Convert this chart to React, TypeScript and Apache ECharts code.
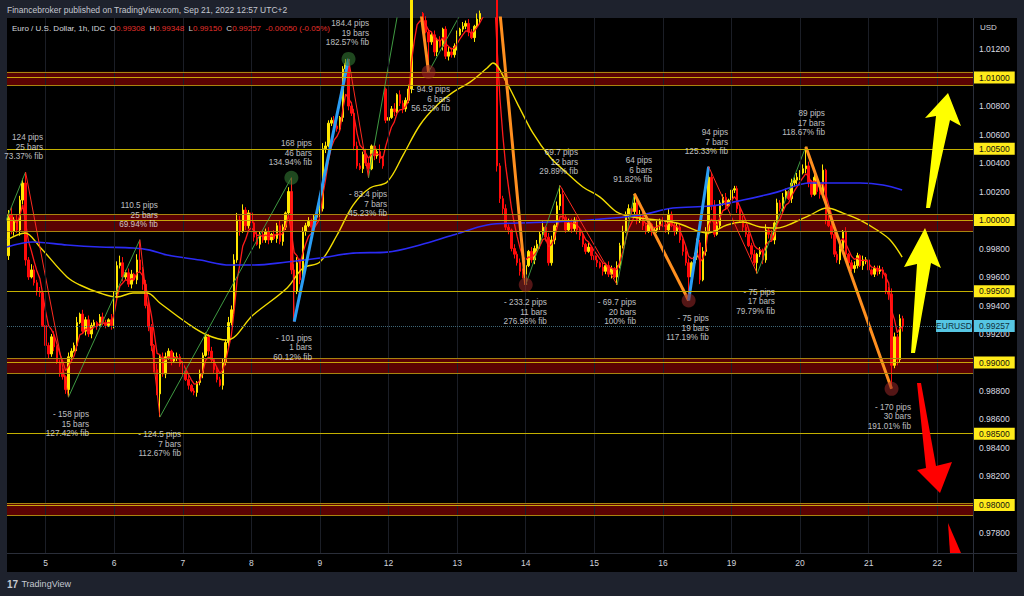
import React, { useEffect, useRef } from "react";
import * as echarts from "echarts";

const FONT = '"Liberation Sans", Arial, sans-serif';
const BASE = 0.98;
const PIP = 0.0001;
const SLOT_COUNT = 338;
const FIRST_DAY_SLOT = 13;
const SLOTS_PER_DAY = 24;
const DAY_LABELS = ["5", "6", "7", "8", "9", "12", "13", "14", "15", "16", "19", "20", "21", "22"];
const Y_MIN = 0.97663;
const Y_MAX = 1.01418;
const LAST_PRICE = 0.99257;
const EMA_PERIOD = 5;

// hourly closes, pips above 0.98000
const CLOSES = [
  204, 192, 200, 193, 214, 226, 172, 160, 165, 156,
  150, 149, 126, 112, 106, 118, 111, 100, 93, 90,
  81, 104, 108, 112, 128, 134, 122, 130, 120, 126,
  128, 126, 132, 128, 126, 130, 126, 148, 168, 170,
  160, 163, 155, 162, 158, 172, 165, 155, 140, 125,
  112, 95, 78, 104, 92, 104, 108, 101, 104, 104,
  99, 94, 88, 84, 80, 79, 86, 92, 105, 118,
  108, 102, 95, 88, 84, 100, 114, 128, 137, 172,
  200, 192, 207, 196, 205, 198, 188, 183, 190, 186,
  192, 186, 190, 187, 196, 185, 195, 205, 220, 165,
  150, 170, 158, 192, 196, 199, 195, 202, 204, 208,
  250, 252, 268, 270, 266, 264, 272, 306, 310, 280,
  275, 252, 238, 236, 246, 240, 236, 252, 245, 248,
  243, 238, 270, 272, 278, 276, 288, 282, 278, 284,
  292, 365, 355, 360, 345, 340, 332, 325, 330, 318,
  326, 322, 334, 315, 318, 316, 322, 330, 334, 336,
  338, 332, 328, 336, 341, 345, 350, 348, 355, 365,
  375, 238, 215, 208, 195, 193, 180, 176, 170, 164,
  162, 168, 178, 172, 180, 183, 190, 195, 188, 170,
  186, 196, 210, 218, 202, 193, 198, 194, 200, 193,
  189, 183, 178, 181, 175, 172, 170, 167, 164, 168,
  162, 166, 160, 168, 182, 192, 204, 208, 206, 212,
  200, 204, 196, 192, 197, 192, 193, 196, 199, 197,
  193, 204, 196, 192, 195, 186, 178, 170, 160, 170,
  174, 184, 158, 178, 192, 230, 210, 190, 196, 212,
  216, 210, 214, 221, 222, 208, 200, 195, 190, 182,
  176, 170, 176, 178, 172, 193, 190, 186, 198, 212,
  208, 216, 220, 215, 226, 228, 230, 233, 236, 238,
  226, 218, 230, 220, 218, 235, 200, 196, 190, 176,
  172, 180, 192, 176, 170, 166, 168, 175, 168, 172,
  172, 165, 162, 166, 164, 165, 162, 150, 148, 98,
  118, 102, 130.8, 125.7,
];

// opens that differ from the previous close (first bar, weekend gap, last bar)
const OPEN_OVERRIDES: [number, number][] = [[0, 175], [132, 292], [313, 130.8]];

// wick lengths in pips (upper / lower)
const WICK_UP = [
  "3524331243", "2313224123", "1322413232", "2123214235", "4233142233", "2142332133",
  "2213121323", "2312232434", "5342231423", "2313242132", "4433232213", "4322341232",
  "3332243122", "5213241322", "3532413223", "2312432313", "2321423123", "4422321323",
  "2313232413", "3132423322", "2213123132", "3213242313", "2322312423", "3422321431",
  "3323343432", "2313221324", "2313242313", "2321323231", "3242341322", "2313123213",
  "2312232134", "3232",
].join("");
const WICK_DN = [
  "3232434212", "3312323132", "3231412323", "2312213232", "3223132423", "4213232313",
  "2313123231", "3232132323", "2313223132", "2321323213", "3232313232", "2312321323",
  "2321323132", "3223131232", "2313221323", "3132322312", "2313232321", "3434232323",
  "3212323132", "2313221323", "3221323132", "2313221323", "3232131232", "2313223231",
  "3231323212", "2313232321", "3212323132", "2321323213", "3212323132", "2313223213",
  "3212323243", "2424",
].join("");

// zigzag pivots [bar index, pips]
const PIVOTS: [number, number][] = [
  [-19, 109.7], [6, 233.7], [21, 75.7], [46, 186.2], [53, 61.7], [99, 229.7], [100, 128.7],
  [119, 313.1], [126, 229.7], [141, 398.8], [147, 303.9], [170, 387.7], [181, 154.5],
  [193, 224.2], [213, 154.5], [219, 218.5], [238, 143.5], [245, 237.5], [262, 162.5],
  [279, 251.5], [309, 81.5],
];
const LEG_KINDS = [
  "up", "down", "up", "down", "up", "down", "blue", "down", "up", "orange",
  "up", "orange", "up", "down", "up", "orange", "blue", "down", "up", "orange",
];
const CIRCLES: [number, string][] = [
  [99, "green"], [119, "green"], [147, "red"], [181, "red"], [238, "red"], [309, "red"],
];

// zigzag labels: [bar position of right edge, pips at middle line, text]
const PIVOT_LABELS: [number, number, string][] = [
  [12.1, 251.2, "124 pips\n25 bars\n73.37% fib"],
  [28.2, 56.8, "- 158 pips\n15 bars\n127.42% fib"],
  [52.3, 203.5, "110.5 pips\n25 bars\n69.94% fib"],
  [60.4, 42.8, "- 124.5 pips\n7 bars\n112.67% fib"],
  [106.2, 247, "168 pips\n46 bars\n134.94% fib"],
  [106.2, 110.2, "- 101 pips\n1 bars\n60.12% fib"],
  [126.2, 331.2, "184.4 pips\n19 bars\n182.57% fib"],
  [132.5, 211.2, "- 83.4 pips\n7 bars\n45.23% fib"],
  [154.5, 284.9, "- 94.9 pips\n6 bars\n56.52% fib"],
  [188.4, 135.4, "- 233.2 pips\n11 bars\n276.96% fib"],
  [199.3, 240.7, "69.7 pips\n12 bars\n29.89% fib"],
  [219.6, 135.4, "- 69.7 pips\n20 bars\n100% fib"],
  [225.2, 235, "64 pips\n6 bars\n91.82% fib"],
  [245.1, 124.2, "- 75 pips\n19 bars\n117.19% fib"],
  [251.8, 254.7, "94 pips\n7 bars\n125.33% fib"],
  [268.2, 142.5, "- 75 pips\n17 bars\n79.79% fib"],
  [285.7, 268.1, "89 pips\n17 bars\n118.67% fib"],
  [315.8, 61.8, "- 170 pips\n30 bars\n191.01% fib"],
];

// moving averages [bar position, pips]
const YELLOW_MA: [number, number][] = [
  [-0.5, 186], [5.8, 190.9], [11, 181.1], [20.5, 160], [25, 154.4], [32, 148.8], [38, 146],
  [43.6, 148.8], [48.5, 148.8], [53, 141.8], [62.5, 127.7], [69.5, 119.3], [76.5, 115.8],
  [85.6, 133.3], [97.5, 152.3], [103.1, 166.3], [109, 170.5], [115, 189.5], [120.6, 210.5],
  [126.5, 222.5], [132.5, 226.7], [138.1, 245.6], [144, 266.7], [150, 280.7], [155.6, 289.8],
  [161.5, 296.8], [167.5, 306.7], [169.5, 310.2], [174.4, 296.1], [178, 282.1], [183.5, 261.1],
  [189.5, 244.2], [195.4, 233], [201, 223.2], [207, 216.1], [212.9, 205.6], [218.5, 202.1],
  [226.9, 200], [233.9, 197.9], [244.5, 190.9], [251.4, 196.5], [257, 198.6], [263, 195.1],
  [268.9, 194.4], [274.5, 197.9], [280.5, 203.5], [286.4, 208.4], [292, 204.9], [298, 200],
  [303.9, 193], [308.5, 186], [312.7, 174],
];
const BLUE_MA: [number, number][] = [
  [-0.5, 181.1], [8.6, 184.6], [20.5, 182.5], [32, 181.1], [43.6, 180.4], [49.5, 178.9],
  [55.5, 175.4], [67, 171.9], [77.5, 168.4], [85.6, 168.4], [97.5, 170.5], [109, 173.3],
  [120.6, 176.8], [132.5, 177.5], [144, 182.5], [155.6, 189.5], [167.5, 196.5], [178, 197.9],
  [189.5, 198.6], [203.5, 200], [221, 203.5], [232.5, 208.4], [245.5, 209.8], [257, 214],
  [268.9, 219.6], [280.5, 226], [298, 226], [306, 224.6], [312.7, 221.1],
];

// horizontal zones [low, mid, high] and single levels, pips
const BANDS: [number, number, number][] = [[294.5, 300, 304], [192.3, 200, 204.2], [92.6, 100, 103.2], [-7, 0, 1.2]];
const SINGLE_LEVELS = [250, 150, 50];

const px = (v: number) => +(BASE + v * PIP).toFixed(5);

function buildOption() {
  const cats = Array.from({ length: SLOT_COUNT }, (_, i) => "s" + i);
  const dayMap: Record<number, string> = {};
  DAY_LABELS.forEach((d, n) => (dayMap[FIRST_DAY_SLOT + n * SLOTS_PER_DAY] = d));

  const candles = CLOSES.map((c, k) => {
    const ov = OPEN_OVERRIDES.find((o) => o[0] === k);
    const o = ov ? ov[1] : CLOSES[k - 1];
    let h = Math.max(o, c) + Number(WICK_UP[k] || 1);
    let l = Math.min(o, c) - Number(WICK_DN[k] || 1);
    const pv = PIVOTS.find((p) => p[0] === k);
    if (pv) {
      if (pv[1] > Math.max(o, c)) h = pv[1];
      else l = pv[1];
    }
    return [px(o), px(c), px(l), px(h)];
  });

  const ema: [number, number][] = [];
  const a = 2 / (EMA_PERIOD + 1);
  let e = CLOSES[0];
  CLOSES.forEach((c, k) => {
    e = k === 0 ? c : e + a * (c - e);
    ema.push([k, px(e)]);
  });

  const legStyle: Record<string, any> = {
    up: { color: "#3f9a42", width: 1 },
    down: { color: "#ff2a1f", width: 1 },
    blue: { color: "#2a9df4", width: 3 },
    orange: { color: "#ff8f1f", width: 3 },
  };
  const legSeries = LEG_KINDS.map((kind, i) => ({
    type: "line",
    xAxisIndex: 1,
    z: 4,
    symbol: "none",
    silent: true,
    lineStyle: legStyle[kind],
    data: [
      [PIVOTS[i][0], px(PIVOTS[i][1])],
      [PIVOTS[i + 1][0], px(PIVOTS[i + 1][1])],
    ],
  }));

  const boxLabel = (p: number) => ({
    show: true,
    position: "end",
    distance: 1,
    formatter: p.toFixed(5),
    backgroundColor: "#ffeb1a",
    color: "#111",
    fontSize: 8.5,
    fontFamily: FONT,
    padding: [2, 5, 1, 5],
  });
  const noLabel = { show: false };
  const levelLines: any[] = [];
  Object.keys(dayMap).forEach((k) =>
    levelLines.push({ xAxis: cats[+k], lineStyle: { color: "#1b1e26", width: 1, type: "solid" }, label: noLabel })
  );
  BANDS.forEach(([lo, mid, hi]) => {
    levelLines.push({ yAxis: px(lo), lineStyle: { color: "#a8840f", width: 1, type: "solid" }, label: noLabel });
    levelLines.push({ yAxis: px(hi), lineStyle: { color: "#a8840f", width: 1, type: "solid" }, label: noLabel });
    levelLines.push({ yAxis: px(mid), lineStyle: { color: "#c8a60a", width: 1, type: "solid" }, label: boxLabel(px(mid)) });
  });
  SINGLE_LEVELS.forEach((v) =>
    levelLines.push({ yAxis: px(v), lineStyle: { color: "#c4b000", width: 1, type: "solid" }, label: boxLabel(px(v)) })
  );
  levelLines.push({
    yAxis: LAST_PRICE,
    lineStyle: { color: "#3f6676", width: 1, type: "dotted" },
    label: {
      show: true,
      position: "end",
      distance: 1,
      formatter: LAST_PRICE.toFixed(5),
      backgroundColor: "#56c6e3",
      color: "#12313c",
      fontSize: 8.5,
      fontFamily: FONT,
      padding: [2, 5, 1, 5],
    },
  });

  const series: any[] = [
    {
      type: "line",
      name: "levels",
      z: 1,
      data: [],
      silent: true,
      markArea: {
        silent: true,
        itemStyle: { color: "#5a0202" },
        label: { show: false },
        data: BANDS.map(([lo, , hi]) => [{ yAxis: px(lo) }, { yAxis: px(hi) }]),
      },
      markLine: { silent: true, symbol: ["none", "none"], precision: 5, data: levelLines },
      markPoint: {
        silent: true,
        data: [
          {
            coord: [cats[SLOT_COUNT - 1], LAST_PRICE],
            symbol: "rect",
            symbolSize: [36, 12],
            symbolOffset: [-17.5, 0],
            itemStyle: { color: "#56c6e3" },
            label: {
              show: true,
              position: "inside",
              formatter: "EURUSD",
              color: "#12313c",
              fontSize: 8.5,
              fontFamily: FONT,
            },
          },
        ],
      },
    },
    {
      type: "candlestick",
      z: 2,
      barWidth: 2,
      data: candles,
      itemStyle: {
        color: "#ffe600",
        color0: "#ff0a0a",
        borderColor: "#ffe600",
        borderColor0: "#ff0a0a",
        borderWidth: 1,
      },
    },
    {
      type: "line",
      xAxisIndex: 1,
      z: 3,
      symbol: "none",
      data: ema,
      lineStyle: { color: "#ff1a1a", width: 1.3 },
    },
    {
      type: "line",
      xAxisIndex: 1,
      z: 3,
      symbol: "none",
      smooth: 0.35,
      data: YELLOW_MA.map(([k, v]) => [k, px(v)]),
      lineStyle: { color: "#f2dc00", width: 1.4 },
    },
    {
      type: "line",
      xAxisIndex: 1,
      z: 3,
      symbol: "none",
      smooth: 0.35,
      data: BLUE_MA.map(([k, v]) => [k, px(v)]),
      lineStyle: { color: "#2b2bf5", width: 1.6 },
    },
    ...legSeries,
    {
      type: "scatter",
      xAxisIndex: 1,
      z: 5,
      silent: true,
      symbolSize: 14,
      data: CIRCLES.map(([k, c]) => {
        const pv = PIVOTS.find((p) => p[0] === k)!;
        return {
          value: [k, px(pv[1])],
          itemStyle: { color: c === "green" ? "rgba(52,120,52,0.75)" : "rgba(150,40,40,0.7)" },
        };
      }),
    },
    {
      type: "scatter",
      xAxisIndex: 1,
      z: 6,
      silent: true,
      symbolSize: 2,
      itemStyle: { color: "rgba(0,0,0,0)" },
      label: {
        show: true,
        position: "inside",
        align: "right",
        verticalAlign: "middle",
        color: "#eceef2",
        textBorderWidth: 0,
        textBorderColor: "transparent",
        fontSize: 8.2,
        lineHeight: 9.6,
        fontFamily: FONT,
      },
      data: PIVOT_LABELS.map(([k, v, t]) => ({ value: [k, px(v)], label: { formatter: t } })),
    },
  ];

  const arrow = (pts: number[][], color: string) => ({
    type: "polygon",
    z: 100,
    silent: true,
    shape: { points: pts },
    style: { fill: color },
  });

  return {
    animation: false,
    backgroundColor: "transparent",
    textStyle: { fontFamily: FONT },
    grid: { left: 7, right: 51, top: 18, bottom: 43, containLabel: false },
    xAxis: [
      {
        type: "category",
        data: cats,
        boundaryGap: true,
        axisLine: { show: false },
        axisTick: { show: false },
        splitLine: { show: false },
        axisLabel: {
          interval: (i: number) => dayMap[i] !== undefined,
          formatter: (_v: string, i: number) => dayMap[i] ?? "",
          color: "#d1d4dc",
          fontSize: 8.5,
          margin: 5,
        },
      },
      { type: "value", min: -0.5, max: SLOT_COUNT - 0.5, show: false },
    ],
    yAxis: {
      type: "value",
      position: "right",
      min: Y_MIN,
      max: Y_MAX,
      minInterval: 0.002,
      maxInterval: 0.002,
      splitLine: { show: false },
      axisLine: { show: false },
      axisTick: { show: false },
      axisLabel: {
        color: "#dadce2",
        fontSize: 8.5,
        margin: 6,
        showMinLabel: false,
        showMaxLabel: false,
        formatter: (v: number) => (v > 1.0135 ? "" : v.toFixed(5)),
      },
    },
    series,
    graphic: [
      {
        type: "text",
        x: 7,
        y: 10,
        z: 100,
        style: {
          text: "Financebroker published on TradingView.com, Sep 21, 2022 12:57 UTC+2",
          fill: "#c5c8d0",
          font: `8.5px ${FONT}`,
          verticalAlign: "middle",
        },
      },
      {
        type: "text",
        x: 12,
        y: 28,
        z: 100,
        style: {
          text: "{w|Euro / U.S. Dollar, 1h, IDC}  {w|O}{r|0.99308}  {w|H}{r|0.99348}  {w|L}{r|0.99150}  {w|C}{r|0.99257}  {r|-0.00050 (-0.05%)}",
          font: `8px ${FONT}`,
          verticalAlign: "middle",
          rich: {
            w: { fill: "#d6d8de", fontSize: 8, fontFamily: FONT },
            r: { fill: "#e3302b", fontSize: 8, fontFamily: FONT },
          },
        },
      },
      {
        type: "text",
        x: 980,
        y: 27,
        z: 100,
        style: { text: "USD", fill: "#d1d4dc", font: `8px ${FONT}`, verticalAlign: "middle" },
      },
      {
        type: "text",
        x: 7,
        y: 584,
        z: 100,
        style: {
          text: "{b|17} {t|TradingView}",
          verticalAlign: "middle",
          rich: {
            b: { fill: "#c5c8d0", fontSize: 10, fontWeight: "bold", fontFamily: FONT },
            t: { fill: "#c5c8d0", fontSize: 9, fontFamily: FONT },
          },
        },
      },
      arrow([[948, 93], [961, 126], [950, 120], [930, 208], [926, 208], [936, 116], [925, 118]], "#ffff00"),
      arrow([[925, 228], [941, 268], [931, 263], [915, 353], [911, 353], [917, 264], [904, 267]], "#ffff00"),
      arrow([[917, 383], [921, 383], [936, 466], [952, 462], [940, 493], [917, 470], [926, 468]], "#ff0000"),
      arrow([[948, 523], [961, 553], [950, 553]], "#ff0000"),
    ],
  };
}

export default function App() {
  const ref = useRef<HTMLDivElement>(null);
  useEffect(() => {
    document.body.style.margin = "0";
    document.body.style.background = "#1e222d";
    const chart = echarts.init(ref.current!, null, { renderer: "svg" });
    chart.setOption(buildOption() as any);
    return () => chart.dispose();
  }, []);
  return (
    <div style={{ position: "relative", width: 1024, height: 596, background: "#1e222d", overflow: "hidden" }}>
      <div style={{ position: "absolute", left: 7, top: 18, width: 1010, height: 554, background: "#000" }} />
      <div style={{ position: "absolute", left: 973, top: 18, width: 1, height: 554, background: "#2a2e39" }} />
      <div style={{ position: "absolute", left: 7, top: 553, width: 1010, height: 1, background: "#2a2e39" }} />
      <div ref={ref} style={{ position: "absolute", left: 0, top: 0, width: 1024, height: 596 }} />
    </div>
  );
}
